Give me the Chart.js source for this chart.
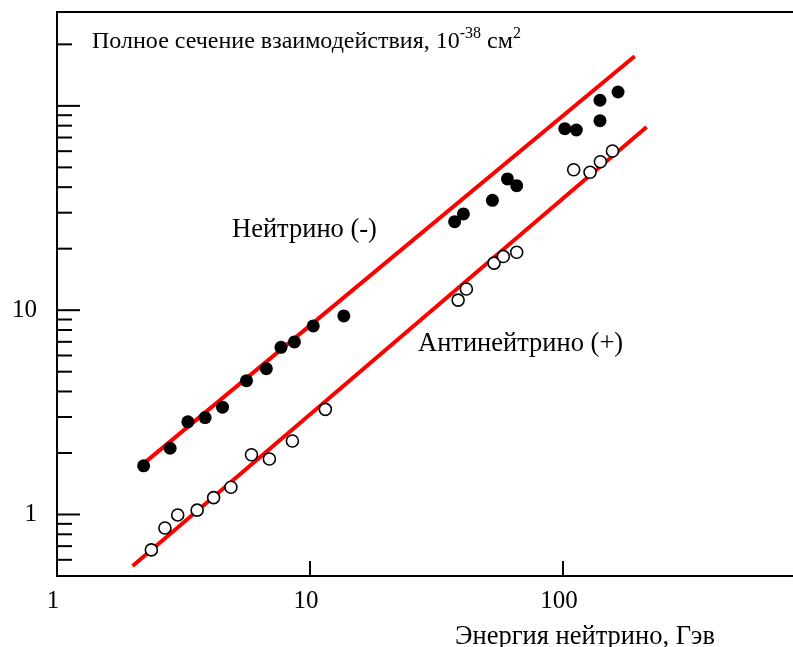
<!DOCTYPE html>
<html><head><meta charset="utf-8">
<script src="https://cdn.jsdelivr.net/npm/chart.js@4/dist/chart.umd.min.js"></script>
<style>html,body{margin:0;padding:0;background:#fff;overflow:hidden}canvas{display:block}</style>
</head><body>
<canvas id="c" width="793" height="647"></canvas>
<script>
// Neutrino (filled) : energy (GeV) and total cross-section (1e-38 cm^2)
const neutrinoE =     [2.20, 2.80, 3.29, 3.85, 4.51, 5.61, 6.72, 7.68, 8.68, 10.3, 13.6, 37.3, 40.4, 52.6, 60.3, 65.6, 101.6, 112.9, 140, 140, 165];
const neutrinoSigma = [1.73, 2.11, 2.84, 2.98, 3.35, 4.52, 5.17, 6.58, 6.99, 8.37, 9.37, 27.1, 29.6, 34.5, 43.9, 40.7, 77.3, 76.2, 84.6, 106.5, 116.9];
// Antineutrino (open)
const antiE =     [2.36, 2.67, 3.00, 3.58, 4.16, 4.87, 5.87, 6.91, 8.52, 11.5, 38.5, 41.5, 53.4, 58.1, 65.6, 110.2, 127.9, 140.5, 156.8];
const antiSigma = [0.671, 0.859, 0.995, 1.05, 1.21, 1.36, 1.96, 1.87, 2.29, 3.27, 11.2, 12.7, 17.0, 18.3, 19.2, 48.7, 47.3, 53.3, 60.1];
// Fit lines (end points)
const neutrinoFitE = [2.12, 192];
const neutrinoFitSigma = [1.71, 175];
const antiFitE = [1.99, 214];
const antiFitSigma = [0.56, 78.8];
// Axis ticks
const xTickValues = [1, 10, 100];
const yTickValues = [1, 10];
const yMajorMarks = [1, 10, 100];
const yMinorMarks = [0.6, 0.7, 0.8, 0.9, 2, 3, 4, 5, 6, 7, 8, 9, 20, 30, 40, 50, 60, 70, 80, 90, 200];
const xMarks = [10, 100];

const FONT = '"Liberation Serif", "Times New Roman", serif';
const pts = (xs, ys) => xs.map((x, i) => ({x, y: ys[i]}));
const noPad = s => { s.paddingTop = 0; s.paddingBottom = 0; s.paddingLeft = 0; s.paddingRight = 0; };

const decor = {
  id: 'decor',
  afterDraw(chart) {
    const ctx = chart.ctx, a = chart.chartArea;
    const xs = chart.scales.x, ys = chart.scales.y;
    ctx.save();
    ctx.strokeStyle = '#000';
    ctx.lineWidth = 2;
    // top border
    ctx.beginPath(); ctx.moveTo(a.left - 1, a.top); ctx.lineTo(a.right, a.top); ctx.stroke();
    // y tick marks (inward)
    yMajorMarks.forEach(v => { const p = ys.getPixelForValue(v); ctx.beginPath(); ctx.moveTo(a.left, p); ctx.lineTo(a.left + 23, p); ctx.stroke(); });
    yMinorMarks.forEach(v => { const p = ys.getPixelForValue(v); ctx.beginPath(); ctx.moveTo(a.left, p); ctx.lineTo(a.left + 15, p); ctx.stroke(); });
    xMarks.forEach(v => { const p = xs.getPixelForValue(v); ctx.beginPath(); ctx.moveTo(p, a.bottom); ctx.lineTo(p, a.bottom - 15); ctx.stroke(); });
    // texts
    ctx.fillStyle = '#000';
    ctx.textBaseline = 'alphabetic';
    ctx.textAlign = 'left';
    let x = 92, base = 48;
    const big = '24px ' + FONT, small = '16px ' + FONT;
    const parts = [['Полное сечение взаимодействия, 10', big, 0], ['-38', small, -10], [' см', big, 0], ['2', small, -10]];
    parts.forEach(([t, f, dy]) => { ctx.font = f; ctx.fillText(t, x, base + dy); x += ctx.measureText(t).width; });
    ctx.font = '26.5px ' + FONT;
    ctx.fillText('Нейтрино (-)', 232, 237);
    ctx.fillText('Антинейтрино (+)', 418, 351);
    ctx.fillText('Энергия нейтрино, Гэв', 455, 644);
    ctx.restore();
  }
};

new Chart(document.getElementById('c'), {
  type: 'scatter',
  data: {
    datasets: [
      { label: 'Нейтрино (-)', data: pts(neutrinoE, neutrinoSigma), pointRadius: 6.5, pointBackgroundColor: '#000', pointBorderColor: '#000', pointBorderWidth: 0, order: 0 },
      { label: 'Антинейтрино (+)', data: pts(antiE, antiSigma), pointRadius: 6, pointBackgroundColor: '#fff', pointBorderColor: '#000', pointBorderWidth: 1.6, order: 0 },
      { type: 'line', label: 'fit ν', data: pts(neutrinoFitE, neutrinoFitSigma), borderColor: '#ff0000', borderWidth: 4, pointRadius: 0, fill: false, order: 1 },
      { type: 'line', label: 'fit anti-ν', data: pts(antiFitE, antiFitSigma), borderColor: '#ff0000', borderWidth: 4, pointRadius: 0, fill: false, order: 1 }
    ]
  },
  options: {
    responsive: false,
    animation: false,
    events: [],
    layout: { autoPadding: false, padding: { top: 12, right: 0, bottom: 0, left: 0 } },
    plugins: { legend: { display: false }, tooltip: { enabled: false }, title: { display: false } },
    scales: {
      x: {
        type: 'logarithmic', min: 1, max: 811,
        afterBuildTicks: s => { s.ticks = xTickValues.map(v => ({value: v})); },
        afterFit: s => { s.height = 71; noPad(s); },
        grid: { display: false, drawTicks: false },
        border: { display: true, color: '#000', width: 2 },
        ticks: { color: '#000', font: { family: FONT, size: 25 }, padding: 10, labelOffset: -4, maxRotation: 0, autoSkip: false, callback: v => String(v) }
      },
      y: {
        type: 'logarithmic', min: 0.5, max: 288,
        afterBuildTicks: s => { s.ticks = yTickValues.map(v => ({value: v})); },
        afterFit: s => { s.width = 57; noPad(s); },
        grid: { display: false, drawTicks: false },
        border: { display: true, color: '#000', width: 2 },
        ticks: { color: '#000', font: { family: FONT, size: 25 }, padding: 20, autoSkip: false, callback: v => String(v) }
      }
    }
  },
  plugins: [decor]
});
</script>
</body></html>
